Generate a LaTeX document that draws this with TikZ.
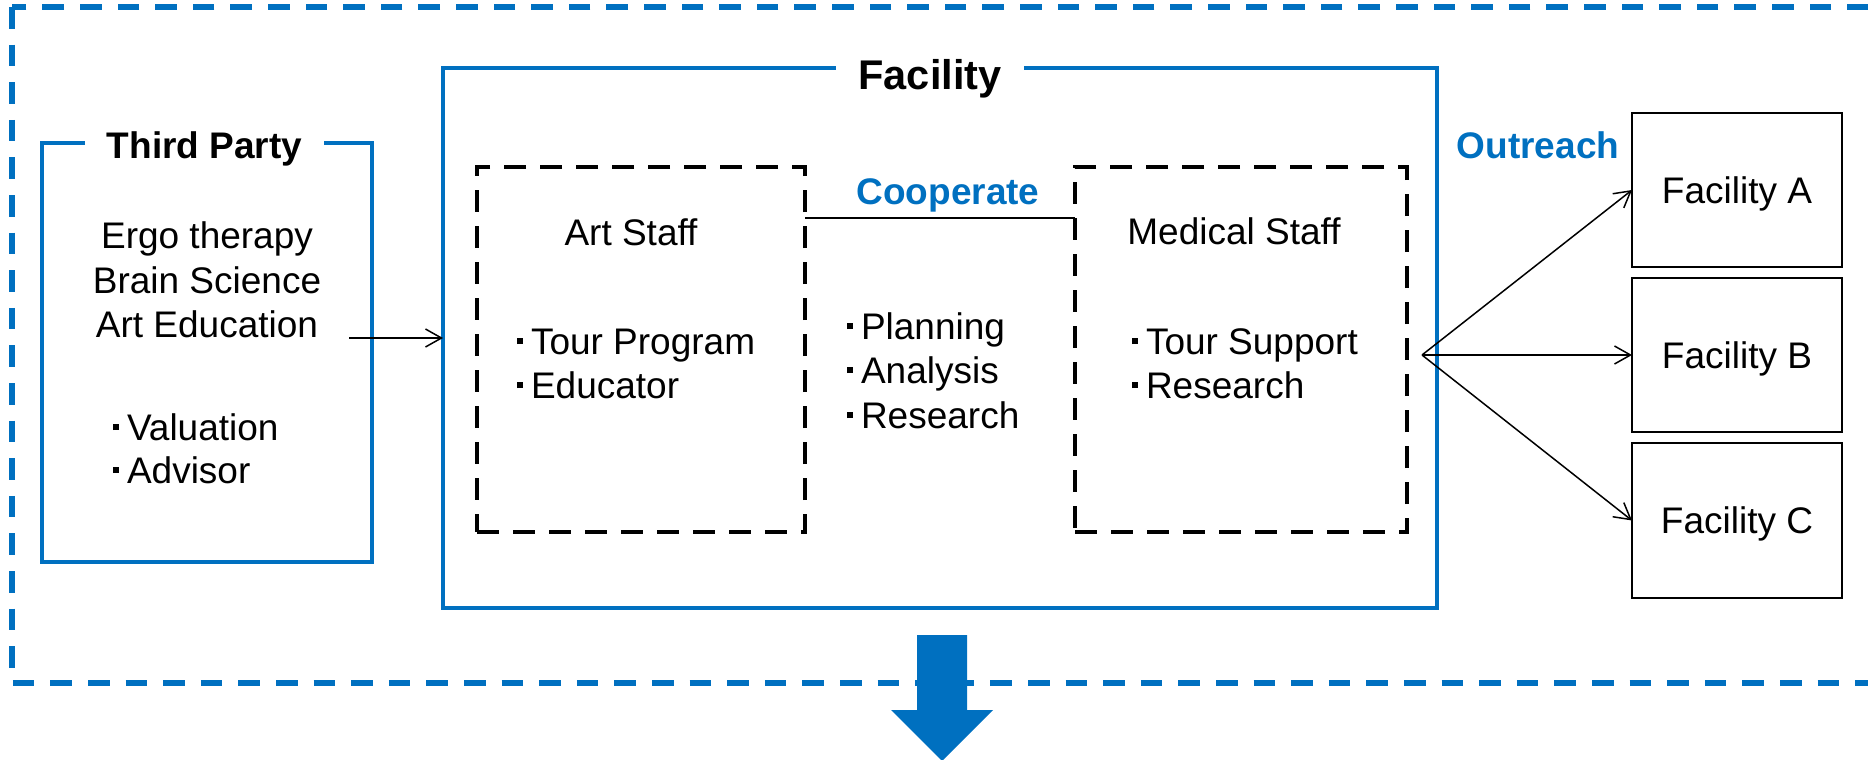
\documentclass[tikz,border=0pt]{standalone}
\usepackage{fontspec}
\setmainfont{Liberation Sans}
\usetikzlibrary{arrows.meta}
\definecolor{bl}{HTML}{0070C0}
\newcommand{\bul}{\rule[5pt]{3pt}{3pt}\hspace{4pt}}
\begin{document}
\begin{tikzpicture}[x=0.5pt,y=-0.5pt,
  every node/.style={inner sep=0pt, outer sep=0pt},
  txt/.style={font=\fontsize{18.5}{22}\selectfont},
  btxt/.style={font=\fontsize{18.5}{22}\selectfont\bfseries},
  ttl/.style={btxt, fill=white, inner xsep=10.75pt, inner ysep=3pt},
  outerbox/.style={draw=bl, line width=2.8pt, dash pattern=on 10.8pt off 8pt},
  bluebox/.style={draw=bl, line width=2.4pt},
  staffbox/.style={draw=black, line width=2.25pt, dash pattern=on 11pt off 7pt},
  facbox/.style={draw=black, line width=1.4pt, minimum width=105pt, minimum height=77pt, txt, text depth=0pt},
  conn/.style={draw=black, line width=0.75pt},
  arr/.style={conn, -{Straight Barb[length=8pt,width=9pt]}},
]
\useasboundingbox (0,0) rectangle (1868,760);
\clip (0,0) rectangle (1868,760);

% outer dashed frame (runs off the right edge)
\draw[outerbox] (12,7) rectangle (1900,683);

% main boxes
\node[bluebox, minimum width=165pt, minimum height=209.5pt] (third) at (207,352.5) {};
\node[bluebox, minimum width=497pt, minimum height=270pt] (fac) at (940,338) {};
\node[staffbox, minimum width=164pt, minimum height=182.5pt] (art) at (641,349.5) {};
\node[staffbox, minimum width=166pt, minimum height=182.5pt] (med) at (1241,349.5) {};

\node[facbox] (facA) at (1737,190) {Facility A};
\node[facbox] (facB) at (1737,355) {Facility B};
\node[facbox, minimum height=77.5pt] (facC) at (1737,520.5) {Facility C};

% titles
\node[ttl, anchor=base] (ttp) at (204.5,158) {Third Party};
\node[ttl, font=\fontsize{20.75}{24}\selectfont\bfseries, inner xsep=11.25pt, anchor=base] (tfac) at (930,89) {Facility};

% third party texts
\node[txt, anchor=base] (e1) at (207,248) {Ergo therapy};
\node[txt, anchor=base] (e2) at (207,293) {Brain Science};
\node[txt, anchor=base] (e3) at (207,337) {Art Education};
\node[txt, anchor=base west] (v1) at (113,440) {\bul Valuation};
\node[txt, anchor=base west] (v2) at (113,483) {\bul Advisor};

% art staff
\node[txt, anchor=base] (artt) at (631,245) {Art Staff};
\node[txt, anchor=base west] (a1) at (517,354) {\bul Tour Program};
\node[txt, anchor=base west] (a2) at (517,398) {\bul Educator};

% middle
\node[txt, anchor=base west] (m1) at (847,339) {\bul Planning};
\node[txt, anchor=base west] (m2) at (847,383) {\bul Analysis};
\node[txt, anchor=base west] (m3) at (847,428) {\bul Research};

% medical staff
\node[txt, anchor=base] (medt) at (1234,244) {Medical Staff};
\node[txt, anchor=base west] (d1) at (1132,354) {\bul Tour Support};
\node[txt, anchor=base west] (d2) at (1132,398) {\bul Research};

% blue labels
\node[btxt, text=bl, anchor=base] (coop) at (948,204) {Cooperate};
\node[btxt, text=bl, anchor=base] (outr) at (1538,158) {Outreach};

% connectors
\coordinate (tpsrc) at (349,338);
\draw[arr] (tpsrc) -- (fac.west);
\coordinate (coopy) at (940,218);
\draw[conn] (art.east |- coopy) -- (med.west |- coopy);
\coordinate (osrc) at (1422,355);
\draw[arr] (osrc) -- (facA.west);
\draw[arr] (osrc) -- (facB.west);
\draw[arr] (osrc) -- (facC.west);

% big down arrow
\fill[bl] (917,635) -- (967,635) -- (967,710) -- (993,710) -- (942,761) -- (891,710) -- (917,710) -- cycle;
\end{tikzpicture}
\end{document}
